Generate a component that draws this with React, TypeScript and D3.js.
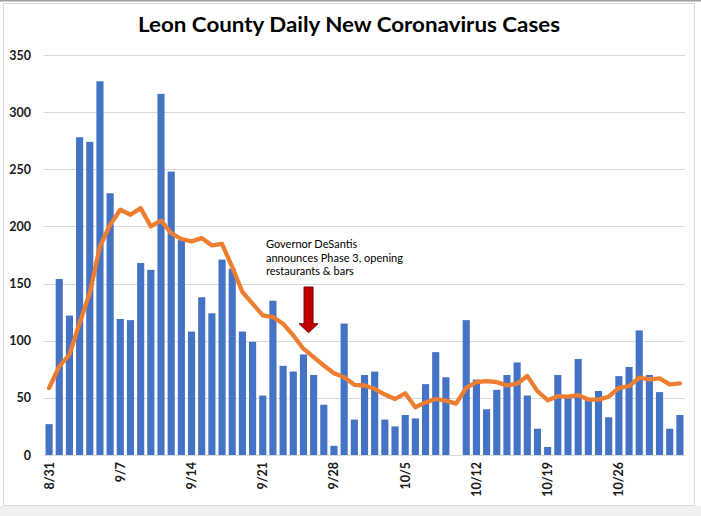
import React from "react";
import * as d3 from "d3";

const days: string[] = [
  "8/31", "9/1", "9/2", "9/3", "9/4", "9/5", "9/6", "9/7", "9/8", "9/9", "9/10",
  "9/11", "9/12", "9/13", "9/14", "9/15", "9/16", "9/17", "9/18", "9/19", "9/20",
  "9/21", "9/22", "9/23", "9/24", "9/25", "9/26", "9/27", "9/28", "9/29", "9/30",
  "10/1", "10/2", "10/3", "10/4", "10/5", "10/6", "10/7", "10/8", "10/9", "10/10",
  "10/11", "10/12", "10/13", "10/14", "10/15", "10/16", "10/17", "10/18", "10/19", "10/20",
  "10/21", "10/22", "10/23", "10/24", "10/25", "10/26", "10/27", "10/28", "10/29", "10/30",
  "10/31", "11/1",
];

const dailyCases: number[] = [
  27, 154, 122, 278, 274, 327, 229, 119, 118, 168, 162,
  316, 248, 188, 108, 138, 124, 171, 163, 108, 99,
  52, 135, 78, 73, 88, 70, 44, 8, 115, 31,
  70, 73, 31, 25, 35, 32, 62, 90, 68, 0,
  118, 66, 40, 57, 70, 81, 52, 23, 7, 70,
  51, 84, 48, 56, 33, 69, 77, 109, 70, 55,
  23, 35,
];

const sevenDayAvg: number[] = [
  58.6, 77.6, 87.8, 115.5, 141.7, 182.5, 201.5, 214.6, 210.2, 216, 200,
  205.2, 194.2, 189, 186.9, 189.8, 183.4, 184.8, 164.4, 142.6, 132.4,
  122.2, 120.7, 114.9, 104.6, 93, 85.6, 78.3, 71.6, 68, 61.4,
  60.8, 57.9, 52.9, 49, 54, 41.8, 46, 49, 47.6, 45,
  58.8, 63.8, 64.7, 63.8, 60.9, 62.4, 69.1, 55.9, 47.9, 51.5,
  51, 52.4, 48.5, 48.5, 51, 58.8, 60.3, 67.6, 66.2, 67,
  61.8, 62.7,
];

const xTickLabels: string[] = ["8/31", "9/7", "9/14", "9/21", "9/28", "10/5", "10/12", "10/19", "10/26"];
const yTicks: number[] = [0, 50, 100, 150, 200, 250, 300, 350];

const titleText = "Leon County Daily New Coronavirus Cases";
const noteLines: string[] = ["Governor DeSantis", "announces Phase 3, opening", "restaurants & bars"];
const arrowPos = 25.5; // between 9/25 and 9/26
const arrowTop = 147;
const arrowTip = 107;

const W = 701;
const H = 516;
const plotLeft = 44;
const plotRight = 685;
const plotTop = 55;
const plotBottom = 455;
const font = "Lato, 'Open Sans', sans-serif";

export default function App() {
  const x = d3
    .scaleBand<string>()
    .domain(days)
    .range([plotLeft, plotRight])
    .paddingInner(0.3)
    .paddingOuter(0.15);
  const y = d3.scaleLinear().domain([0, 350]).range([plotBottom, plotTop]);
  const cx = (d: string) => (x(d) as number) + x.bandwidth() / 2;

  const line = d3
    .line<number>()
    .x((_, i) => cx(days[i]))
    .y((v) => y(v))
    .curve(d3.curveLinear);

  // arrow geometry
  const ax = cx(days[0]) + arrowPos * x.step();
  const yTop = y(arrowTop);
  const yTip = y(arrowTip);
  const headH = 9;
  const shaftW = 4.5;
  const headW = 9.5;
  const arrowPts = [
    [ax - shaftW, yTop],
    [ax + shaftW, yTop],
    [ax + shaftW, yTip - headH],
    [ax + headW, yTip - headH],
    [ax, yTip],
    [ax - headW, yTip - headH],
    [ax - shaftW, yTip - headH],
  ]
    .map((p) => p.join(","))
    .join(" ");

  return (
    <svg
      width={W}
      height={H}
      style={{ position: "absolute", left: 0, top: 0, display: "block" }}
      xmlns="http://www.w3.org/2000/svg"
    >
      <rect x={0} y={0} width={W} height={H} fill="#f0f0f0" />
      <rect x={0} y={0} width={W} height={506} fill="#ffffff" />
      <rect x={0} y={0} width={W} height={1.5} fill="#a0a0a0" />
      <rect x={3.5} y={3.5} width={691} height={502} fill="#ffffff" stroke="#d9d9d9" strokeWidth={1} />

      <text
        x={138}
        y={32}
        textLength={422}
        lengthAdjust="spacingAndGlyphs"
        fontFamily={font}
        fontWeight="bold"
        fontSize={21}
        fill="#000"
      >
        {titleText}
      </text>

      {/* gridlines */}
      {yTicks.map((t) => (
        <line
          key={"g" + t}
          x1={plotLeft}
          x2={plotRight}
          y1={Math.round(y(t)) + 0.5}
          y2={Math.round(y(t)) + 0.5}
          stroke="#d9d9d9"
          strokeWidth={1}
        />
      ))}

      {/* y labels */}
      {yTicks.map((t) => (
        <text
          key={"yl" + t}
          x={31}
          y={y(t)}
          dy="0.36em"
          textAnchor="end"
          fontFamily={font}
          fontWeight="bold"
          fontSize={12.5}
          fill="#1a1a1a"
        >
          {t}
        </text>
      ))}

      {/* bars */}
      {dailyCases.map((v, i) => (
        <rect
          key={"b" + i}
          x={x(days[i])}
          y={y(v)}
          width={x.bandwidth()}
          height={plotBottom - y(v)}
          fill="#4472c4"
        />
      ))}

      {/* moving average */}
      <path
        d={line(sevenDayAvg) || ""}
        fill="none"
        stroke="#ed7d31"
        strokeWidth={4.3}
        strokeLinejoin="round"
        strokeLinecap="round"
      />

      {/* x labels */}
      {xTickLabels.map((l) => (
        <text
          key={"xl" + l}
          transform={`translate(${cx(l)},462) rotate(-90)`}
          dy="0.36em"
          textAnchor="end"
          fontFamily={font}
          fontWeight="bold"
          fontSize={12.5}
          fill="#1a1a1a"
        >
          {l}
        </text>
      ))}

      {/* annotation */}
      {noteLines.map((l, i) => (
        <text
          key={"n" + i}
          x={266}
          y={248 + i * 13.5}
          fontFamily={font}
          fontSize={11}
          fill="#000"
        >
          {l}
        </text>
      ))}
      <polygon points={arrowPts} fill="#c00000" stroke="#7f0000" strokeWidth={1} />
    </svg>
  );
}
